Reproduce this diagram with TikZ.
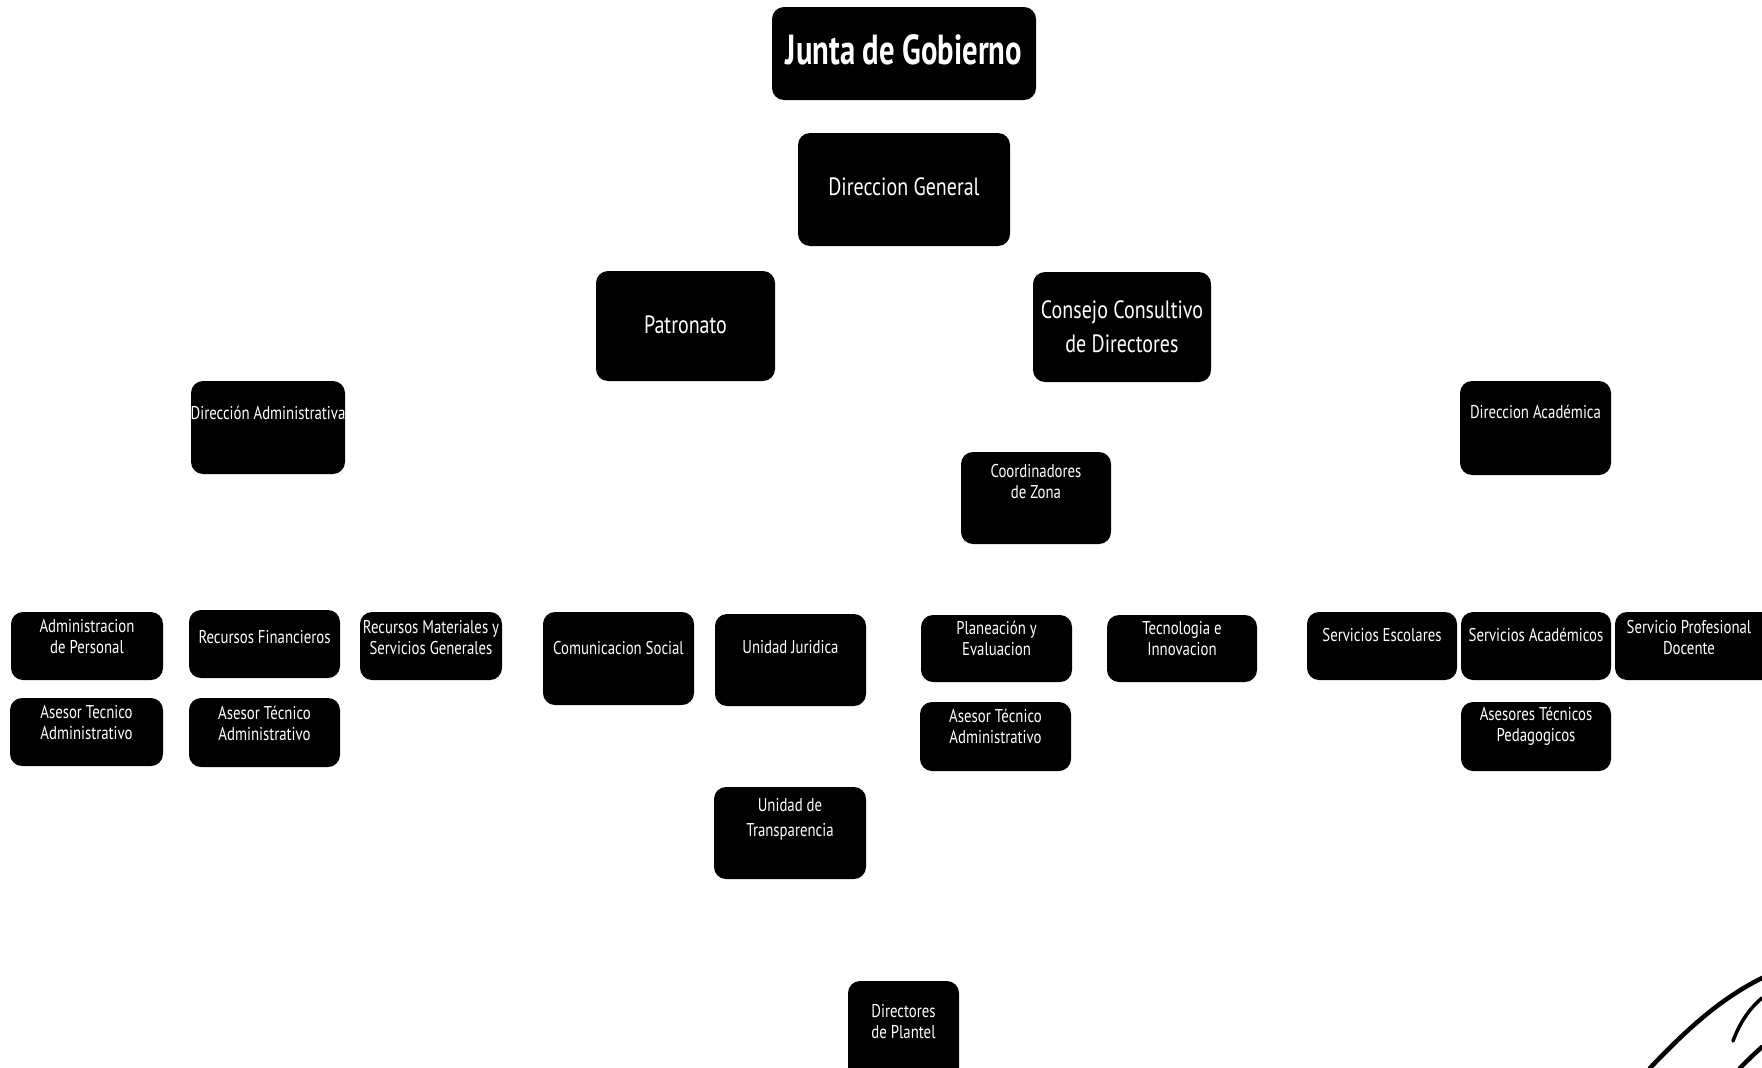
\documentclass[tikz,border=0pt]{standalone}
\usepackage{fontspec}
\setmainfont{PT Sans}
\newfontfamily\condf{PT Sans}[FakeStretch=0.8]
\newfontfamily\condbf{PT Sans Bold}[FakeStretch=0.73]
\usetikzlibrary{fit}
\tikzset{
  orgbox/.style={fill=black, draw=none, rounded corners=12pt, inner sep=0pt},
  orgtxt/.style={text=white, align=center, inner sep=0pt},
  smalltxt/.style={orgtxt, font=\condf\fontsize{18.5}{21}\selectfont},
  midtxt/.style={orgtxt, font=\condf\fontsize{25}{34}\selectfont},
  bigtxt/.style={orgtxt, font=\condbf\fontsize{42}{46}\selectfont},
  stroke/.style={line width=4.5pt, line cap=round, draw=black}
}
\begin{document}
\begin{tikzpicture}[x=1pt, y=-1pt]
\useasboundingbox (0,0) rectangle (1762,1068);
\clip (0,0) rectangle (1762,1068);
% top levels
\node[orgbox, fit={(772,7) (1036,100)}] (junta) {};
\node[bigtxt] (juntaT) at (904,50) {Junta de Gobierno};
\node[orgbox, fit={(798,133) (1010,246)}] (dg) {};
\node[midtxt] (dgT) at (904,187) {Direccion General};
\node[orgbox, fit={(596,271) (775,381)}] (patr) {};
\node[midtxt] (patrT) at (685.5,325) {Patronato};
\node[orgbox, fit={(1033,272) (1211,382)}] (cons) {};
\node[midtxt] (consT) at (1122,327) {Consejo Consultivo\\de Directores};
% second level
\node[orgbox, fit={(191,381) (345,474)}] (dadm) {};
\node[smalltxt] (dadmT) at (268,413) {Dirección Administrativa};
\node[orgbox, fit={(1460,381) (1611,475)}] (dacad) {};
\node[smalltxt] (dacadT) at (1535.5,412) {Direccion Académica};
\node[orgbox, fit={(961,452) (1111,544)}] (coord) {};
\node[smalltxt] (coordT) at (1036,482) {Coordinadores\\de Zona};
% third row
\node[orgbox, fit={(11,612) (163,680)}] (adper) {};
\node[smalltxt] (adperT) at (87,636.5) {Administracion\\de Personal};
\node[orgbox, fit={(189,610) (340,678)}] (rfin) {};
\node[smalltxt] (rfinT) at (264.5,637) {Recursos Financieros};
\node[orgbox, fit={(360,612) (502,680)}] (rmat) {};
\node[smalltxt] (rmatT) at (431,637.5) {Recursos Materiales y\\Servicios Generales};
\node[orgbox, fit={(543,612) (694,705)}] (csoc) {};
\node[smalltxt] (csocT) at (618.5,648) {Comunicacion Social};
\node[orgbox, fit={(715,614) (866,706)}] (ujur) {};
\node[smalltxt] (ujurT) at (790.5,647) {Unidad Juridica};
\node[orgbox, fit={(921,615) (1072,682)}] (plan) {};
\node[smalltxt] (planT) at (996.5,638.5) {Planeación y\\Evaluacion};
\node[orgbox, fit={(1107,615) (1257,682)}] (tec) {};
\node[smalltxt] (tecT) at (1182,638.5) {Tecnologia e\\Innovacion};
\node[orgbox, fit={(1307,612) (1457,680)}] (sesc) {};
\node[smalltxt] (sescT) at (1382,635) {Servicios Escolares};
\node[orgbox, fit={(1461,612) (1611,680)}] (sacad) {};
\node[smalltxt] (sacadT) at (1536,635) {Servicios Académicos};
\node[orgbox, fit={(1615,612) (1775,680)}] (sprof) {};
\node[smalltxt] (sprofT) at (1689,637.5) {Servicio Profesional\\Docente};
% fourth row
\node[orgbox, fit={(10,698) (163,766)}] (ase1) {};
\node[smalltxt] (ase1T) at (86.5,723) {Asesor Tecnico\\Administrativo};
\node[orgbox, fit={(189,698) (340,767)}] (ase2) {};
\node[smalltxt] (ase2T) at (264.5,723) {Asesor Técnico\\Administrativo};
\node[orgbox, fit={(920,702) (1071,771)}] (ase3) {};
\node[smalltxt] (ase3T) at (995.5,726.5) {Asesor Técnico\\Administrativo};
\node[orgbox, fit={(1461,702) (1611,771)}] (asep) {};
\node[smalltxt] (asepT) at (1536,726.5) {Asesores Técnicos\\Pedagogicos};
% lower
\node[orgbox, fit={(714,787) (866,879)}] (utra) {};
\node[smalltxt, font=\condf\fontsize{18.5}{25}\selectfont] (utraT) at (790,819.5) {Unidad de\\Transparencia};
\node[orgbox, fit={(848,981) (959,1080)}] (dplan) {};
\node[smalltxt] (dplanT) at (903.5,1022) {Directores\\de Plantel};
% corner strokes
\coordinate (c1a) at (1650,1068);
\coordinate (c1b) at (1762,978);
\coordinate (c2a) at (1733,1041);
\coordinate (c2b) at (1762,998);
\coordinate (c3a) at (1740,1068);
\coordinate (c3b) at (1762,1047);
\draw[stroke] (c1a) .. controls (1690,1026) and (1722,998) .. (c1b);
\draw[stroke, line width=3.5pt] (c2a) .. controls (1740,1022) and (1750,1008) .. (c2b);
\draw[stroke] (c3a) .. controls (1748,1060) and (1755,1053) .. (c3b);
\end{tikzpicture}
\end{document}
